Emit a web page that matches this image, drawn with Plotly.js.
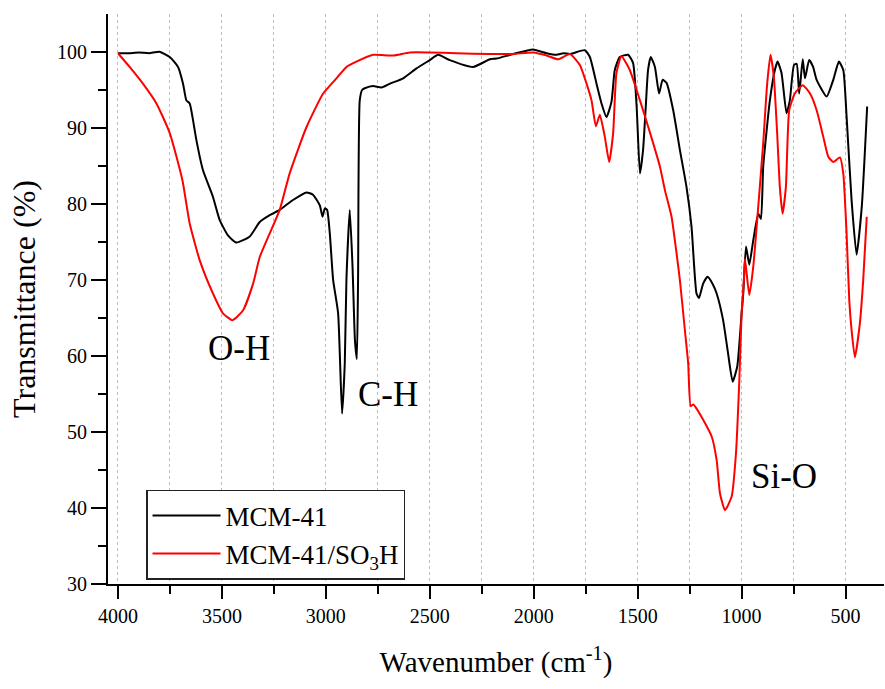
<!DOCTYPE html>
<html>
<head>
<meta charset="utf-8">
<script src="https://cdn.plot.ly/plotly-3.0.1.min.js"></script>
<style>
html,body{margin:0;padding:0;background:#fff;}
#chart{width:885px;height:689px;}
</style>
</head>
<body>
<div id="chart"></div>
<script>
// MCM-41 (black)
const mcmWave = [4000,3950,3900,3850,3800,3751,3711,3687,3671,3655,3639,3623,3591,3543,3511,3470,3430,3366,3318,3270,3222,3158,3093,3062,3029,3016,3005,2994,2981,2965,2941,2922,2909,2901,2885,2872,2860,2851,2845,2837,2825,2813,2773,2732,2692,2628,2564,2500,2460,2404,2292,2211,2179,2099,2003,1938,1890,1858,1826,1754,1730,1698,1674,1650,1626,1610,1586,1546,1522,1505,1489,1474,1461,1450,1437,1417,1397,1380,1361,1329,1297,1265,1241,1217,1205,1185,1164,1140,1120,1089,1065,1043,1021,1000,992,979,963,944,920,907,896,864,840,827,808,784,768,748,735,723,706,695,675,656,639,591,559,532,511,495,471,447,422,396];
const mcmT = [99.8,99.8,99.9,99.8,100.0,99.3,98.0,95.8,93.6,93.2,91.0,88.4,84.4,80.9,77.9,75.8,74.9,75.7,77.6,78.5,79.2,80.5,81.5,81.2,79.8,78.3,79.4,79.2,76.1,70.0,65.6,52.4,59.0,70.0,79.2,72.0,62.0,59.6,70.0,93.6,95.0,95.2,95.5,95.3,95.8,96.5,97.8,98.9,99.6,98.9,98.0,99.0,99.1,99.7,100.3,99.8,99.6,99.8,99.7,100.2,99.3,95.8,93.2,91.4,93.4,97.6,99.3,99.6,98.5,92.8,84.0,87.1,92.8,97.6,99.3,98.0,94.5,96.3,95.9,92.3,87.1,82.2,77.0,68.2,67.6,69.5,70.4,69.5,68.2,64.7,60.3,56.6,58.6,65.6,68.2,74.4,72.0,75.2,78.7,78.0,84.9,93.6,97.6,98.7,97.2,91.9,93.6,98.25,98.4,94.5,99.0,96.5,98.9,98.0,96.3,94.1,96.3,98.7,97.6,91.5,80.5,73.3,79.6,92.8];

// MCM-41/SO3H (red)
const so3hWave = [4000,3944,3880,3815,3751,3690,3655,3607,3543,3495,3449,3398,3350,3318,3270,3222,3174,3093,3013,2949,2901,2853,2773,2677,2596,2500,2372,2211,2099,2003,1938,1883,1826,1778,1746,1722,1701,1682,1658,1637,1618,1602,1578,1538,1489,1440,1393,1369,1337,1313,1297,1273,1257,1245,1232,1220,1185,1144,1120,1104,1080,1048,1027,1011,1000,989,984,963,944,920,896,877,861,845,829,816,803,787,771,744,706,671,639,607,583,559,527,511,495,482,471,455,431,415,398];
const so3hT = [99.8,98.0,95.8,93.2,89.3,83.1,77.4,72.6,68.2,65.6,64.7,66.0,69.5,73.0,76.1,79.2,84.0,90.1,94.5,96.5,98.0,98.7,99.6,99.5,99.9,99.9,99.8,99.7,99.7,99.9,99.5,99.0,99.7,98.25,95.8,93.6,90.2,91.7,88.8,85.5,89.3,97.2,99.4,97.6,93.6,89.3,84.9,81.8,78.3,73.5,70.0,63.4,59.0,53.4,53.6,53.2,51.6,49.4,46.3,41.9,39.7,41.5,47.2,56.8,65.6,70.0,72.8,68.0,71.7,79.6,88.0,95.8,99.6,96.7,89.3,82.2,78.7,82.2,92.3,94.5,95.6,94.5,92.3,88.8,86.2,85.5,86.1,84.0,76.1,67.3,63.4,59.8,64.3,70.0,78.3];

const seriesNames = ['MCM-41', 'MCM-41/SO<sub>3</sub>H'];
const bandLabels = ['O-H', 'C-H', 'Si-O'];
const bandWave = [3419, 2702, 797];
const bandT = [61.0, 54.9, 44.2];

const xTickVals = [4000,3500,3000,2500,2000,1500,1000,500];
const yTickVals = [30,40,50,60,70,80,90,100];

const FONT = '"Liberation Serif", "Times New Roman", serif';
const xRange = [4048, 315];
const yRange = [30, 104.96];

const traces = [
  {x: mcmWave, y: mcmT, name: seriesNames[0], type: 'scatter', mode: 'lines',
   line: {color: '#000000', width: 2, shape: 'spline', smoothing: 0.5}},
  {x: so3hWave, y: so3hT, name: seriesNames[1], type: 'scatter', mode: 'lines',
   line: {color: '#ff0000', width: 2, shape: 'spline', smoothing: 0.5}}
];

const annotations = bandLabels.map((t, i) => ({
  x: bandWave[i], y: bandT[i], xref: 'x', yref: 'y', text: t, showarrow: false,
  font: {family: FONT, size: 35, color: '#000'}
}));

const layout = {
  width: 885, height: 689,
  margin: {l: 108, r: 1, t: 14, b: 105},
  paper_bgcolor: '#fff', plot_bgcolor: '#fff',
  font: {family: FONT, color: '#000'},
  showlegend: true,
  legend: {
    x: 0.049, y: 0.165, xanchor: 'left', yanchor: 'top',
    bgcolor: '#fff', bordercolor: '#222', borderwidth: 1.5,
    font: {family: FONT, size: 27, color: '#000'},
    itemwidth: 68, tracegroupgap: 0
  },
  xaxis: {
    range: xRange, autorange: false,
    tickvals: xTickVals, ticktext: xTickVals.map(String),
    ticks: 'outside', ticklen: 13, tickwidth: 2, tickcolor: '#000',
    showline: true, linewidth: 2, linecolor: '#000',
    showgrid: true, gridcolor: '#bdbdbd', gridwidth: 1, griddash: 'dot',
    zeroline: false,
    minor: {dtick: 250, tick0: 0, ticks: 'outside', ticklen: 8, tickwidth: 2, tickcolor: '#000',
            showgrid: true, gridcolor: '#bdbdbd', gridwidth: 1, griddash: 'dot'},
    tickfont: {family: FONT, size: 20, color: '#000'},
    title: {text: 'Wavenumber (cm<sup>-1</sup>)', font: {family: FONT, size: 29, color: '#000'}, standoff: 26}
  },
  xaxis2: {
    overlaying: 'x', side: 'top', anchor: 'y',
    range: xRange, autorange: false,
    tickvals: xTickVals, showticklabels: false,
    ticks: 'inside', ticklen: 13, tickwidth: 2, tickcolor: '#000',
    showline: true, linewidth: 2, linecolor: '#000',
    showgrid: false, zeroline: false,
    minor: {dtick: 250, tick0: 0, ticks: 'inside', ticklen: 7, tickwidth: 2, tickcolor: '#000', showgrid: false}
  },
  yaxis: {
    range: yRange, autorange: false,
    tickvals: yTickVals, ticktext: yTickVals.map(String),
    ticks: 'outside', ticklen: 15, tickwidth: 2, tickcolor: '#000',
    showline: true, linewidth: 2, linecolor: '#000',
    showgrid: false, zeroline: false,
    minor: {dtick: 5, tick0: 0, ticks: 'outside', ticklen: 8, tickwidth: 2, tickcolor: '#000', showgrid: false},
    tickfont: {family: FONT, size: 20, color: '#000'},
    title: {text: 'Transmittance (%)', font: {family: FONT, size: 32, color: '#000'}, standoff: 12}
  },
  annotations: annotations
};

Plotly.newPlot('chart', traces, layout, {displayModeBar: false, staticPlot: true});
</script>
</body>
</html>
